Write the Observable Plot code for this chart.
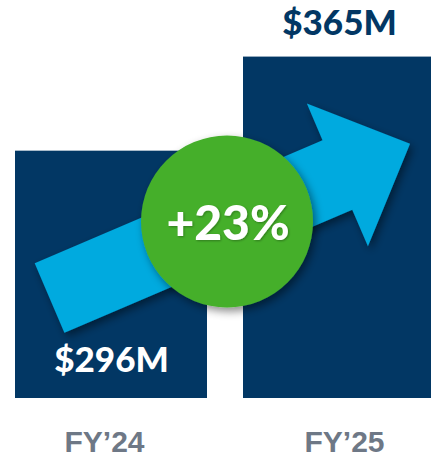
<!DOCTYPE html>
<html><head><meta charset="utf-8">
<script src="https://cdn.jsdelivr.net/npm/d3@7"></script>
<script src="https://cdn.jsdelivr.net/npm/@observablehq/plot@0.6"></script>
<style>body{margin:0;background:#fff} svg{display:block}</style>
</head><body><div id="chart"></div>
<script>
const years = ["FY’24", "FY’25"];
const revenue = [296, 365];
const labels = ["$296M", "$365M"];
const baseline = 114.6; // truncated value axis start
const yTop = 406.5;

const data = years.map((year, i) => ({year, value: revenue[i], label: labels[i]}));
const growth = Math.round((revenue[1] - revenue[0]) / revenue[0] * 100);
const growthLabel = `+${growth}%`;

const navy = "#023764", blue = "#00aadf", green = "#45af2c", gray = "#6e7886";
const font = "Lato, 'Open Sans', sans-serif";

// arrow anchored in data space (band fraction, value)
const arrowTail = {year: years[0], at: 0.18, value: 188};
const arrowTip = {year: years[1], at: 0.87, value: 301};
const shaftHalf = 37.8, headHalf = 77.7, headLen = 79;

const axisStyle = {tickSize: 0, tickPadding: 32, fontSize: 30, fontWeight: 700, color: gray,
  fontFamily: "'Liberation Sans', Arial, sans-serif", label: null};

const plot = Plot.plot({
  width: 431, height: 459,
  marginLeft: 14, marginRight: 0, marginTop: 0, marginBottom: 61,
  style: {fontFamily: font, background: "#fff", overflow: "hidden"},
  x: {domain: years, range: [14, 436], paddingInner: 0.157, paddingOuter: 0},
  y: {domain: [baseline, yTop], axis: null},
  marks: [
    Plot.barY(data, {x: "year", y1: () => baseline, y2: "value", fill: navy}),
    Plot.axisX({...axisStyle, ticks: [years[0]], dx: -7}),
    Plot.axisX({...axisStyle, ticks: [years[1]], dx: 5}),
    Plot.text(data.filter(d => d.year === years[1]), {x: "year", y: "value", text: "label",
      dy: -33, fill: navy, fontSize: 35, fontWeight: 900, fontFamily: font}),
    Plot.text(data.filter(d => d.year === years[0]), {x: "year", y: () => baseline, text: "label",
      dy: -38, fill: "#fff", fontSize: 35, fontWeight: 900, fontFamily: font}),
    Plot.dot([growthLabel], {frameAnchor: "middle", r: 86, fill: green, stroke: null, dx: 4, dy: 22}),
    Plot.text([growthLabel], {frameAnchor: "middle", text: d => d, dx: 5, dy: 25, fill: "#fff",
      fontSize: 48, fontWeight: 900, fontFamily: font})
  ]
});
document.getElementById("chart").append(plot);

const svg = d3.select(plot);
const defs = svg.insert("defs", ":first-child");
defs.append("filter").attr("id", "sh").attr("x", "-30%").attr("y", "-30%").attr("width", "160%").attr("height", "160%")
  .append("feDropShadow").attr("dx", 3).attr("dy", 4).attr("stdDeviation", 4)
  .attr("flood-color", "#000").attr("flood-opacity", 0.45);
defs.append("filter").attr("id", "tsh")
  .append("feDropShadow").attr("dx", 1).attr("dy", 1).attr("stdDeviation", 1)
  .attr("flood-color", "#000").attr("flood-opacity", 0.3);

const sx = plot.scale("x"), sy = plot.scale("y");
const px = a => sx.apply(a.year) + a.at * sx.bandwidth;
const t = [px(arrowTail), sy.apply(arrowTail.value)];
const p = [px(arrowTip), sy.apply(arrowTip.value)];
const ddx = p[0] - t[0], ddy = p[1] - t[1], L = Math.hypot(ddx, ddy);
const u = [ddx / L, ddy / L], n = [-u[1], u[0]];
const hb = [p[0] - u[0] * headLen, p[1] - u[1] * headLen];
const off = (q, s) => [q[0] + n[0] * s, q[1] + n[1] * s];
const pts = [off(t, shaftHalf), off(hb, shaftHalf), off(hb, headHalf), p,
  off(hb, -headHalf), off(hb, -shaftHalf), off(t, -shaftHalf)];
svg.insert("path", "g[aria-label='dot']")
  .attr("d", "M" + pts.map(q => q.join(",")).join("L") + "Z")
  .attr("fill", blue).attr("filter", "url(#sh)");
svg.select("g[aria-label='dot']").attr("filter", "url(#sh)");
svg.selectAll("g[aria-label='text']").filter((d, i, nodes) => i === nodes.length - 1).attr("filter", "url(#tsh)");
</script></body></html>
